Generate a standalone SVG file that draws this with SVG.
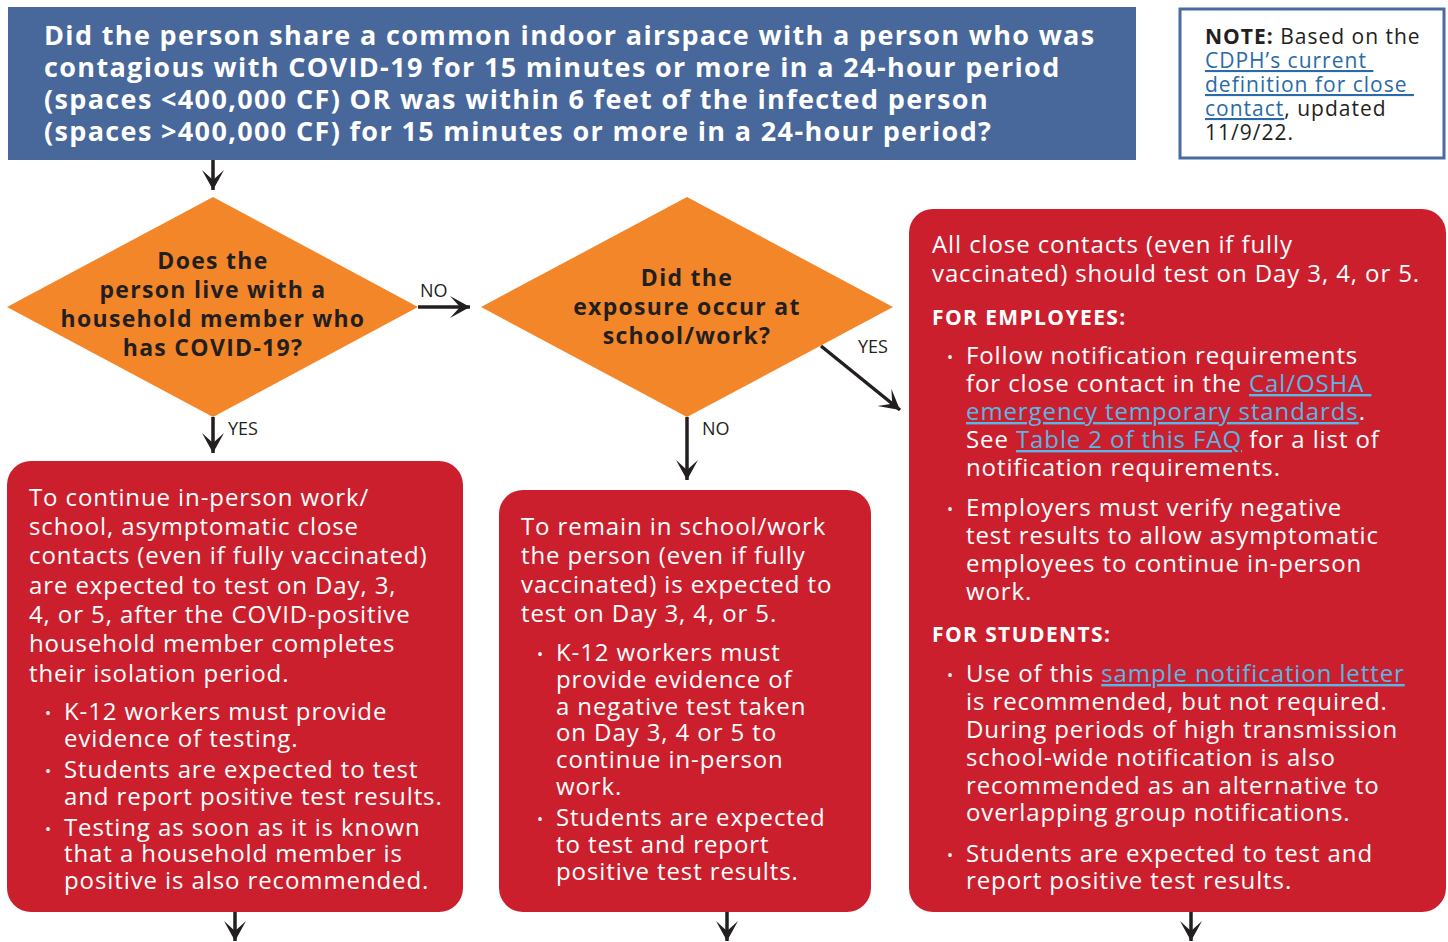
<svg xmlns="http://www.w3.org/2000/svg" width="1448" height="942" viewBox="0 0 1448 942">
<style>
.hdr{font-family:"Open Sans","Noto Sans",sans-serif;font-weight:700;font-size:27px;letter-spacing:1.35px;fill:#fff}
.dia{font-family:"Open Sans","Noto Sans",sans-serif;font-weight:700;font-size:23px;letter-spacing:1.3px;fill:#231f20;text-anchor:middle}
.lbl{font-family:"Open Sans","Noto Sans",sans-serif;font-size:18px;fill:#231f20}
.body{font-family:"Open Sans","Noto Sans",sans-serif;font-size:24px;letter-spacing:0.9px;fill:#fff}
.bold{font-weight:700;font-size:21px;letter-spacing:1.4px}
.bul{font-family:"Open Sans","Noto Sans",sans-serif;font-size:16px;fill:#fff}
.lnk{fill:#5ab6e4;text-decoration:underline}
.note{font-family:"Open Sans","Noto Sans",sans-serif;font-size:21px;letter-spacing:1px;fill:#231f20}
.nlnk{fill:#2a6aa8;text-decoration:underline}
.red{fill:#cc1f2e}
.conn{stroke:#231f20;stroke-width:3.5;fill:none;marker-end:url(#ah)}
</style>
<defs>
<marker id="ah" markerUnits="userSpaceOnUse" markerWidth="24" markerHeight="24" viewBox="-22 -12 24 24" refX="0" refY="0" orient="auto">
<path d="M0,0 L-20,-11 L-10,0 L-20,11 Z" fill="#231f20"/>
</marker>
</defs>
<rect width="1448" height="942" fill="#fff"/>

<g id="header">
<rect x="8" y="7" width="1128" height="153" fill="#48679a"/>
<text class="hdr"><tspan x="44" y="45">Did the person share a common indoor airspace with a person who was</tspan><tspan x="44" y="77">contagious with COVID-19 for 15 minutes or more in a 24-hour period</tspan><tspan x="44" y="109">(spaces &lt;400,000 CF) OR was within 6 feet of the infected person</tspan><tspan x="44" y="141">(spaces &gt;400,000 CF) for 15 minutes or more in a 24-hour period?</tspan></text>
</g>

<g id="note">
<rect x="1180" y="9" width="264" height="149" fill="#fff" stroke="#4a6aa0" stroke-width="3"/>
<text class="note"><tspan x="1205" y="44"><tspan font-weight="700">NOTE:</tspan> Based on the</tspan><tspan x="1205" y="68" class="nlnk">CDPH’s current </tspan><tspan x="1205" y="92" class="nlnk">definition for close </tspan><tspan x="1205" y="116"><tspan class="nlnk">contact</tspan>, updated</tspan><tspan x="1205" y="140">11/9/22.</tspan></text>
</g>

<g id="decision1">
<polygon points="213,197 418,307 213,417 7,307" fill="#f4862a"/>
<text class="dia"><tspan x="213" y="269">Does the</tspan><tspan x="213" y="298">person live with a</tspan><tspan x="213" y="327">household member who</tspan><tspan x="213" y="356">has COVID-19?</tspan></text>
</g>

<g id="decision2">
<polygon points="687,197 893,307 687,417 481,307" fill="#f4862a"/>
<text class="dia"><tspan x="687" y="286">Did the</tspan><tspan x="687" y="315">exposure occur at</tspan><tspan x="687" y="344">school/work?</tspan></text>
</g>

<g id="box1">
<rect x="7" y="461" width="456" height="451" rx="24" class="red"/>
<text class="body"><tspan x="29" y="506">To continue in-person work/</tspan><tspan x="29" y="535">school, asymptomatic close</tspan><tspan x="29" y="564">contacts (even if fully vaccinated)</tspan><tspan x="29" y="594">are expected to test on Day, 3,</tspan><tspan x="29" y="623">4, or 5, after the COVID-positive</tspan><tspan x="29" y="652">household member completes</tspan><tspan x="29" y="682">their isolation period.</tspan></text>
<text class="bul"><tspan x="45" y="719">•</tspan><tspan x="45" y="777">•</tspan><tspan x="45" y="835">•</tspan></text>
<text class="body"><tspan x="64" y="720">K-12 workers must provide</tspan><tspan x="64" y="747">evidence of testing.</tspan><tspan x="64" y="778">Students are expected to test</tspan><tspan x="64" y="805">and report positive test results.</tspan><tspan x="64" y="836">Testing as soon as it is known</tspan><tspan x="64" y="862">that a household member is</tspan><tspan x="64" y="889">positive is also recommended.</tspan></text>
</g>

<g id="box2">
<rect x="499" y="490" width="372" height="422" rx="24" class="red"/>
<text class="body"><tspan x="521" y="535">To remain in school/work</tspan><tspan x="521" y="564">the person (even if fully</tspan><tspan x="521" y="593">vaccinated) is expected to</tspan><tspan x="521" y="622">test on Day 3, 4, or 5.</tspan></text>
<text class="bul"><tspan x="537" y="660">•</tspan><tspan x="537" y="825">•</tspan></text>
<text class="body"><tspan x="556" y="661">K-12 workers must</tspan><tspan x="556" y="688">provide evidence of</tspan><tspan x="556" y="715">a negative test taken</tspan><tspan x="556" y="741">on Day 3, 4 or 5 to</tspan><tspan x="556" y="768">continue in-person</tspan><tspan x="556" y="795">work.</tspan><tspan x="556" y="826">Students are expected</tspan><tspan x="556" y="853">to test and report</tspan><tspan x="556" y="880">positive test results.</tspan></text>
</g>

<g id="box3">
<rect x="909" y="209" width="537" height="703" rx="24" class="red"/>
<text class="body"><tspan x="932" y="253">All close contacts (even if fully</tspan><tspan x="932" y="282">vaccinated) should test on Day 3, 4, or 5.</tspan></text>
<text class="body bold"><tspan x="932" y="325">FOR EMPLOYEES:</tspan><tspan x="932" y="642">FOR STUDENTS:</tspan></text>
<text class="bul"><tspan x="947" y="363">•</tspan><tspan x="947" y="515">•</tspan><tspan x="947" y="681">•</tspan><tspan x="947" y="861">•</tspan></text>
<text class="body"><tspan x="966" y="364">Follow notification requirements</tspan><tspan x="966" y="392">for close contact in the <tspan class="lnk">Cal/OSHA </tspan></tspan><tspan x="966" y="420"><tspan class="lnk">emergency temporary standards</tspan>.</tspan><tspan x="966" y="448">See <tspan class="lnk">Table 2 of this FAQ</tspan> for a list of</tspan><tspan x="966" y="476">notification requirements.</tspan><tspan x="966" y="516">Employers must verify negative</tspan><tspan x="966" y="544">test results to allow asymptomatic</tspan><tspan x="966" y="572">employees to continue in-person</tspan><tspan x="966" y="600">work.</tspan><tspan x="966" y="682">Use of this <tspan class="lnk">sample notification letter</tspan></tspan><tspan x="966" y="710">is recommended, but not required.</tspan><tspan x="966" y="738">During periods of high transmission</tspan><tspan x="966" y="766">school-wide notification is also</tspan><tspan x="966" y="794">recommended as an alternative to</tspan><tspan x="966" y="821">overlapping group notifications.</tspan><tspan x="966" y="862">Students are expected to test and</tspan><tspan x="966" y="889">report positive test results.</tspan></text>
</g>

<g id="connectors">
<line class="conn" x1="213" y1="160" x2="213" y2="190"/>
<line class="conn" x1="418" y1="307" x2="470" y2="307"/>
<line class="conn" x1="213" y1="417" x2="213" y2="453"/>
<line class="conn" x1="687" y1="417" x2="687" y2="480"/>
<line class="conn" x1="821" y1="346" x2="900" y2="410"/>
<line class="conn" x1="235" y1="912" x2="235" y2="941"/>
<line class="conn" x1="727" y1="912" x2="727" y2="941"/>
<line class="conn" x1="1191" y1="912" x2="1191" y2="941"/>
<text class="lbl" x="420" y="297">NO</text>
<text class="lbl" x="228" y="435">YES</text>
<text class="lbl" x="702" y="435">NO</text>
<text class="lbl" x="858" y="353">YES</text>
</g>
</svg>
